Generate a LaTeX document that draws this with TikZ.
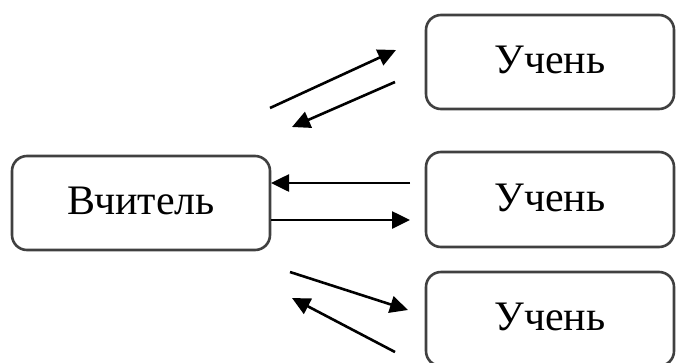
\documentclass[tikz,border=0pt]{standalone}
\usepackage{fontspec}
\setmainfont{Liberation Serif}
\usetikzlibrary{arrows.meta}
\begin{document}
\begin{tikzpicture}[x=1pt,y=-1pt,
  box/.style={draw=black!75,line width=2.6pt,rounded corners=15pt,fill=white,
    inner sep=0pt,font=\fontsize{42}{50}\selectfont},
  arr/.style={line width=2.6pt,-{Triangle[length=18pt,width=17pt]}}]
\useasboundingbox (0,0) rectangle (676,362);
\node[box,minimum width=258pt,minimum height=94pt] (v) at (141,203) {\raisebox{4pt}{Вчитель}};
\node[box,minimum width=248pt,minimum height=94pt] (u1) at (550,62) {\raisebox{4pt}{Учень}};
\node[box,minimum width=248pt,minimum height=95pt] (u2) at (550,199.5) {\raisebox{4pt}{Учень}};
\node[box,minimum width=248pt,minimum height=94pt] (u3) at (550,319) {\raisebox{4pt}{Учень}};
% top pair
\coordinate (a1s) at (270,108); \coordinate (a1e) at (396,50);
\coordinate (a2s) at (395,82);  \coordinate (a2e) at (292,127);
\draw[arr] (a1s) -- (a1e);
\draw[arr] (a2s) -- (a2e);
% middle pair
\coordinate (b1s) at (410,183); \coordinate (b1e) at (271,183);
\coordinate (b2s) at (271,220); \coordinate (b2e) at (410,220);
\draw[arr] (b1s) -- (b1e);
\draw[arr] (b2s) -- (b2e);
% bottom pair
\coordinate (c1s) at (290,272); \coordinate (c1e) at (408,310);
\coordinate (c2s) at (395,352); \coordinate (c2e) at (292,298);
\draw[arr] (c1s) -- (c1e);
\draw[arr] (c2s) -- (c2e);
\end{tikzpicture}
\end{document}
